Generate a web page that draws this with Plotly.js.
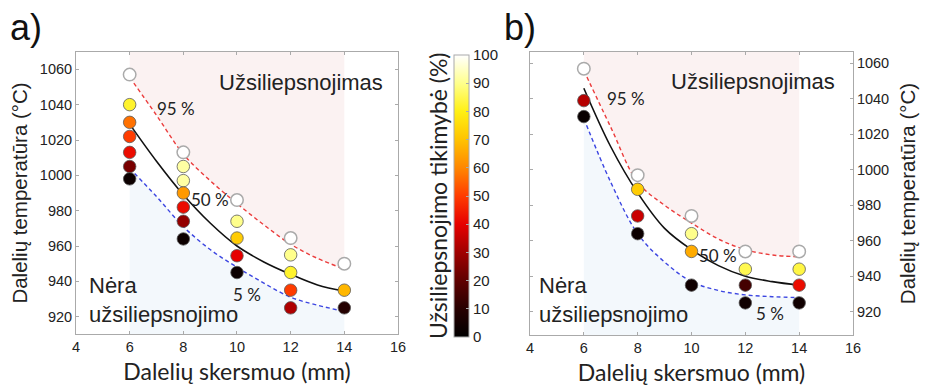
<!DOCTYPE html>
<html>
<head>
<meta charset="utf-8">
<script src="https://cdn.plot.ly/plotly-3.0.1.min.js"></script>
<style>html,body{margin:0;padding:0;background:#fff;}#chart{width:929px;height:386px;}</style>
</head>
<body>
<div id="chart"></div>
<script>
// ---- data ----
const xTicks = [4, 6, 8, 10, 12, 14, 16];
const yTicks = [920, 940, 960, 980, 1000, 1020, 1040, 1060];
const cbTicks = [0, 10, 20, 30, 40, 50, 60, 70, 80, 90, 100];

// panel a) measured points: diameter (mm), temperature (°C), ignition probability (%)
const aDiam = [6,6,6,6,6,6,6, 8,8,8,8,8,8,8, 10,10,10,10,10, 12,12,12,12,12, 14,14,14];
const aTemp = [1057,1040,1030,1022,1013,1005,998, 1013,1005,997,990,982,974,964, 986,974,964.5,954.5,945, 964.5,955,945,935,925, 950,935,925];
const aProb = [100,82,57,50,42,24,3, 100,92,92,63,42,28,3, 100,90,72,40,3, 100,90,82,50,32, 100,68,9];

// panel b)
const bDiam = [6,6,6, 8,8,8,8, 10,10,10,10, 12,12,12,12, 14,14,14,14];
const bTemp = [1057,1039,1030, 997,989,974,964, 974,964,954,935, 954,944,935,925, 954,944,935,925];
const bProb = [100,33,2, 100,72,36,3, 100,90,66,4, 100,85,15,4, 100,84,42,4];

// probability curves (95 %, 50 %, 5 %)
const curveX = [6, 7, 8, 9, 10, 11, 12, 13, 14];
const a95 = [1055.5, 1034, 1012, 997, 984, 972, 961, 953, 947];
const a50 = [1029, 1008, 989, 973, 960, 951, 944, 938, 934.5];
const a05 = [1004, 988, 971, 958, 948, 939, 931, 926.5, 923];
const b95 = [1056, 1024, 993, 980, 970, 961, 955, 952, 951];
const b50 = [1046, 1013, 987, 967, 955, 946, 940, 937, 935];
const b05 = [1029, 993, 964, 948, 937, 932, 929.5, 928.5, 928];

const labelIgn = 'Užsiliepsnojimas';
const labelNoIgn = 'Nėra<br>užsiliepsnojimo';
const xTitle = 'Dalelių skersmuo (mm)';
const yTitle = 'Dalelių temperatūra (°C)';
const cbTitle = 'Užsiliepsnojimo tikimybė (%)';

// ---- styling ----
const ARIAL = 'Arial, "Liberation Sans", sans-serif';
const CAL = 'Lato, "Open Sans", sans-serif';
const colorscale = [
  [0.0, 'rgb(0,0,0)'], [0.1, 'rgb(40,0,0)'], [0.2, 'rgb(95,0,0)'], [0.3, 'rgb(160,0,0)'],
  [0.4, 'rgb(230,0,0)'], [0.5, 'rgb(255,60,0)'], [0.6, 'rgb(255,135,0)'],
  [0.7, 'rgb(255,195,0)'], [0.8, 'rgb(255,240,20)'], [0.9, 'rgb(255,255,140)'], [1.0, 'rgb(255,255,255)']
];
const TOP = 1200;

function panel(xa, ya, d, t, p, c95, c50, c05) {
  const top = curveX.map(() => TOP);
  return [
    {x: curveX, y: top, xaxis: xa, yaxis: ya, mode: 'lines', line: {width: 0}, hoverinfo: 'skip', showlegend: false},
    {x: curveX, y: c95, xaxis: xa, yaxis: ya, mode: 'lines', line: {width: 0, shape: 'spline'}, fill: 'tonexty', fillcolor: 'rgb(251,242,242)', hoverinfo: 'skip', showlegend: false},
    {x: curveX, y: c05, xaxis: xa, yaxis: ya, mode: 'lines', line: {width: 0, shape: 'spline'}, fill: 'tozeroy', fillcolor: 'rgb(243,248,252)', hoverinfo: 'skip', showlegend: false},
    {x: curveX, y: c95, xaxis: xa, yaxis: ya, mode: 'lines', line: {color: 'rgb(235,60,60)', width: 1.4, dash: '4px,3px', shape: 'spline'}, showlegend: false, name: '95 %'},
    {x: curveX, y: c05, xaxis: xa, yaxis: ya, mode: 'lines', line: {color: 'rgb(60,70,225)', width: 1.4, dash: '4px,3px', shape: 'spline'}, showlegend: false, name: '5 %'},
    {x: curveX, y: c50, xaxis: xa, yaxis: ya, mode: 'lines', line: {color: '#111', width: 1.6, shape: 'spline'}, showlegend: false, name: '50 %'},
    {x: d, y: t, xaxis: xa, yaxis: ya, mode: 'markers', showlegend: false,
     marker: {size: 12.5, opacity: 1, color: p, coloraxis: 'coloraxis',
              line: {width: p.map(v => v >= 100 ? 1.5 : 0.8), color: p.map(v => v >= 100 ? 'rgb(170,170,170)' : 'rgb(90,90,90)')}}}
  ];
}

const data = [].concat(
  panel('x', 'y', aDiam, aTemp, aProb, a95, a50, a05),
  panel('x2', 'y2', bDiam, bTemp, bProb, b95, b50, b05)
);

const axisCommon = {
  showline: true, linecolor: '#aaa', linewidth: 1, mirror: 'ticks',
  ticks: 'inside', ticklen: 3, tickcolor: '#aaa', showgrid: false, zeroline: false,
  tickfont: {family: ARIAL, size: 14.5, color: '#222'}
};

const ann = (x, y, text, xref, yref, font, extra) => Object.assign({x, y, text, xref, yref, showarrow: false, font}, extra || {});
const fBig = {family: ARIAL, size: 22, color: '#222'};
const fPct = {family: CAL, size: 17, color: '#222'};
const fXT = {family: CAL, size: 23, color: '#222'};
const fYT = {family: ARIAL, size: 20.5, color: '#222'};

const layout = {
  width: 929, height: 386,
  margin: {l: 76, r: 76, t: 52, b: 51},
  paper_bgcolor: '#fff', plot_bgcolor: '#fff',
  showlegend: false,
  xaxis: Object.assign({}, axisCommon, {domain: [0, 0.4144], range: [4, 16], tickvals: xTicks, anchor: 'y',
    title: {text: xTitle, font: fXT, standoff: 9}}),
  yaxis: Object.assign({}, axisCommon, {domain: [0.0035, 1], range: [910.2, 1069.8], tickvals: yTicks, anchor: 'x',
    title: {text: yTitle, font: fYT, standoff: 6}}),
  xaxis2: Object.assign({}, axisCommon, {domain: [0.5843, 1], range: [4, 16], tickvals: xTicks, anchor: 'y2',
    title: {text: xTitle, font: fXT, standoff: 9}}),
  yaxis2: Object.assign({}, axisCommon, {domain: [0, 1], range: [906.9, 1066.4], tickvals: yTicks, anchor: 'x2', side: 'right',
    title: {text: yTitle, font: fYT, standoff: 12}}),
  coloraxis: {
    cmin: 0, cmax: 100, colorscale: colorscale,
    colorbar: {x: 0.4865, xanchor: 'left', y: 0.491, yanchor: 'middle', len: 0.9965, lenmode: 'fraction',
      thickness: 15, thicknessmode: 'pixels', xpad: 0, ypad: 0, outlinewidth: 1, outlinecolor: '#aaa',
      tickvals: cbTicks, ticks: 'inside', ticklen: 3, tickcolor: '#aaa',
      tickfont: {family: ARIAL, size: 15, color: '#222'}}
  },
  annotations: [
    ann(-0.0875, 1.085, 'a)', 'paper', 'paper', {family: ARIAL, size: 36, color: '#111'}, {xanchor: 'left', yanchor: 'middle'}),
    ann(0.548, 1.088, 'b)', 'paper', 'paper', {family: ARIAL, size: 36, color: '#111'}, {xanchor: 'left', yanchor: 'middle'}),
    ann(0.4659, 0.491, cbTitle, 'paper', 'paper', {family: CAL, size: 23, color: '#222'}, {textangle: -90}),
    ann(12.40, 1052.4, labelIgn, 'x', 'y', fBig),
    ann(7.73, 1038.1, '95 %', 'x', 'y', fPct),
    ann(8.98, 986.6, '50 %', 'x', 'y', fPct),
    ann(10.39, 932.8, '5 %', 'x', 'y', fPct),
    ann(4.41, 929.2, labelNoIgn, 'x', 'y', fBig, {xanchor: 'left', align: 'left'}),
    ann(12.30, 1049.6, labelIgn, 'x2', 'y2', fBig),
    ann(7.58, 1040.4, '95 %', 'x2', 'y2', fPct),
    ann(10.97, 951.9, '50 %', 'x2', 'y2', fPct),
    ann(12.90, 919.2, '5 %', 'x2', 'y2', fPct),
    ann(4.26, 926.6, labelNoIgn, 'x2', 'y2', fBig, {xanchor: 'left', align: 'left'})
  ]
};

Plotly.newPlot('chart', data, layout, {displayModeBar: false, staticPlot: true});
</script>
</body>
</html>
